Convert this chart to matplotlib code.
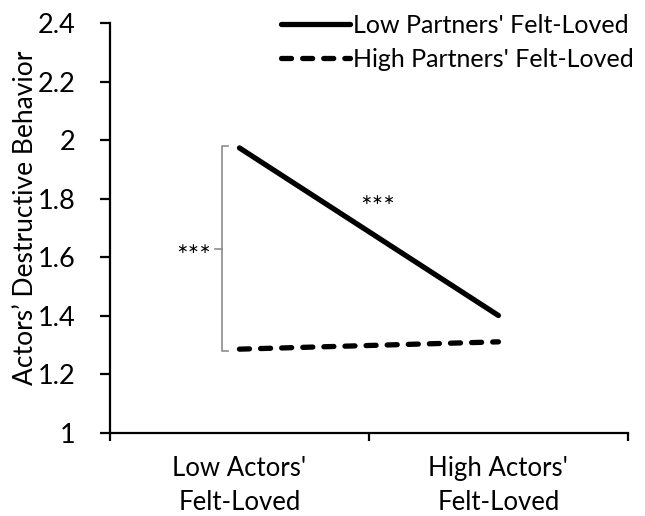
import matplotlib.pyplot as plt
import numpy as np

# data
actor_levels = ["Low Actors'\nFelt-Loved", "High Actors'\nFelt-Loved"]
low_partner = [1.973, 1.40]
high_partner = [1.285, 1.31]
series_names = ["Low Partners' Felt-Loved", "High Partners' Felt-Loved"]
y_ticks = [1, 1.2, 1.4, 1.6, 1.8, 2, 2.2, 2.4]
y_tick_labels = ["1", "1.2", "1.4", "1.6", "1.8", "2", "2.2", "2.4"]

plt.rcParams['font.family'] = ['Lato', 'DejaVu Sans']

fig = plt.figure(figsize=(6.45, 5.16), dpi=100)
ax = fig.add_axes([0.1705, 0.1618, 0.803, 0.7936])

x = np.arange(len(actor_levels))
ax.plot(x, low_partner, color="black", lw=3.8, solid_capstyle="round",
        label=series_names[0])
ax.plot(x, high_partner, color="black", lw=3.8, dashes=(1.9, 2.1),
        dash_capstyle="round", label=series_names[1])

# significance bracket between the two series at low actors' level
bx = -0.068
ax.plot([bx + 0.025, bx, bx, bx + 0.025],
        [low_partner[0] + 0.008, low_partner[0] + 0.008,
         high_partner[0] - 0.008, high_partner[0] - 0.008],
        color="#8c8c8c", lw=1.2)
mid = (low_partner[0] + high_partner[0]) / 2
ax.plot([bx - 0.025, bx], [mid, mid], color="#8c8c8c", lw=1.2)
ax.text(bx - 0.11, mid, "\u2217\u2217\u2217", ha="center", va="center",
        fontsize=10, family="DejaVu Sans")
ax.text(0.535, 1.795, "\u2217\u2217\u2217", ha="center", va="center",
        fontsize=10, family="DejaVu Sans")

ax.set_xlim(-0.5, 1.5)
ax.set_ylim(1, 2.4)
ax.set_yticks(y_ticks)
ax.set_yticklabels(y_tick_labels)
ax.set_xticks(x)
ax.set_xticklabels(actor_levels, linespacing=1.45)
ax.set_xticks([-0.5, 0.5, 1.5], minor=True)
ax.tick_params(axis="x", which="major", length=0, pad=17, labelsize=18.5)
ax.tick_params(axis="x", which="minor", length=6, width=1.6, direction="out")
ax.tick_params(axis="y", length=7, width=1.6, labelsize=19.5, pad=18)

for s in ["top", "right"]:
    ax.spines[s].set_visible(False)
for s in ["left", "bottom"]:
    ax.spines[s].set_linewidth(1.6)

ax.set_ylabel("Actors\u2019 Destructive Behavior", fontsize=19)
ax.yaxis.set_label_coords(-0.138, 0.524)

ax.legend(loc="upper right", bbox_to_anchor=(1.054, 1.077), frameon=False,
          fontsize=18, handlelength=2.75, handletextpad=0.1,
          labelspacing=0.45)

fig.savefig("out.png", dpi=100)
